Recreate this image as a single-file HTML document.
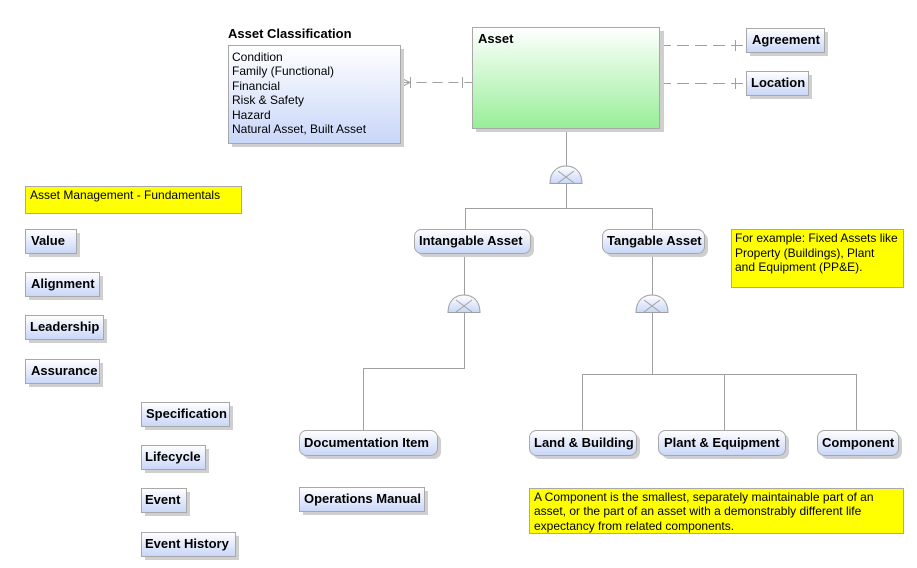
<!DOCTYPE html>
<html><head><meta charset="utf-8"><style>
body{margin:0;background:#fff;}
svg{display:block;font-family:"Liberation Sans",Arial,sans-serif;}
.b{font-weight:bold;font-size:13px;fill:#000;}
.t{font-size:12px;fill:#000;}
</style></head><body>
<svg width="917" height="568" viewBox="0 0 917 568" xmlns="http://www.w3.org/2000/svg" xml:space="preserve">
<defs>
<linearGradient id="bl" x1="0" y1="0" x2="0" y2="1"><stop offset="0" stop-color="#ffffff"/><stop offset="1" stop-color="#c8d6f8"/></linearGradient>
<linearGradient id="gr" x1="0" y1="0" x2="0" y2="1"><stop offset="0" stop-color="#ffffff"/><stop offset="1" stop-color="#98ee98"/></linearGradient>
</defs>
<g stroke="#a0a0a0" fill="none" stroke-width="1">
<path d="M400.5 82.5H472" stroke-dasharray="10,6"/>
<path d="M401 78L410 82.5L401 87M410.5 77V88M462.5 77V88"/>
<path d="M659 45.5H746" stroke-dasharray="12,6"/>
<path d="M735.5 40V51"/>
<path d="M659 83.5H746" stroke-dasharray="12,6"/>
<path d="M735.5 78V89"/>
<path d="M566.5 128V166M566.5 183V208.5M465.5 229V208.5H652.5V229"/>
<path d="M464.5 253V295M464.5 312V368.5H363.5V430"/>
<path d="M652.5 253V295M652.5 312V374.5M582.5 430V374.5H856.5V430M724.5 374.5V430"/>
</g>
<g stroke="#a0a0a0" fill="url(#bl)">
<path d="M550 183.5C550 172 557 166 566 166C575 166 582 172 582 183.5Z"/>
<path d="M448 312.5C448 301 455 295 464 295C473 295 480 301 480 312.5Z"/>
<path d="M636 312.5C636 301 643 295 652 295C661 295 668 301 668 312.5Z"/>
</g>
<g stroke="#a0a0a0" fill="none">
<path d="M558 171L574 183M574 171L558 183"/>
<path d="M456 300L472 312M472 300L456 312"/>
<path d="M644 300L660 312M660 300L644 312"/>
</g>
<g fill="#cfcfcf">
<rect x="232" y="49" width="172" height="98"/>
<rect x="476" y="31" width="188" height="101"/>
<rect x="750" y="32" width="78" height="24"/>
<rect x="750" y="75" width="62" height="24"/>
<rect x="29" y="233" width="51" height="24"/>
<rect x="29" y="276" width="74" height="24"/>
<rect x="29" y="319" width="78" height="24"/>
<rect x="29" y="363" width="74" height="24"/>
<rect x="145" y="406" width="88" height="24"/>
<rect x="145" y="449" width="64" height="24"/>
<rect x="145" y="492" width="45" height="24"/>
<rect x="145" y="536" width="94" height="24"/>
<rect x="303" y="491" width="125" height="24"/>
<rect x="418" y="233" width="116" height="24" rx="7"/>
<rect x="606" y="233" width="102" height="24" rx="7"/>
<rect x="303" y="434" width="138" height="25" rx="7"/>
<rect x="533" y="434" width="107" height="25" rx="7"/>
<rect x="662" y="434" width="127" height="25" rx="7"/>
<rect x="821" y="434" width="81" height="25" rx="7"/>
</g>
<g stroke="#a8a8a8">
<rect x="228.5" y="45.5" width="172" height="98" fill="url(#bl)"/>
<rect x="472.5" y="27.5" width="187" height="101" fill="url(#gr)"/>
<rect x="746.5" y="28.5" width="78" height="24" fill="url(#bl)"/>
<rect x="746.5" y="71.5" width="62" height="24" fill="url(#bl)"/>
<rect x="25.5" y="229.5" width="51" height="24" fill="url(#bl)"/>
<rect x="25.5" y="272.5" width="74" height="24" fill="url(#bl)"/>
<rect x="25.5" y="315.5" width="78" height="24" fill="url(#bl)"/>
<rect x="25.5" y="359.5" width="74" height="24" fill="url(#bl)"/>
<rect x="141.5" y="402.5" width="88" height="24" fill="url(#bl)"/>
<rect x="141.5" y="445.5" width="64" height="24" fill="url(#bl)"/>
<rect x="141.5" y="488.5" width="45" height="24" fill="url(#bl)"/>
<rect x="141.5" y="532.5" width="94" height="24" fill="url(#bl)"/>
<rect x="299.5" y="487.5" width="125" height="24" fill="url(#bl)"/>
<rect x="414.5" y="229.5" width="116" height="24" rx="7" fill="url(#bl)"/>
<rect x="602.5" y="229.5" width="102" height="24" rx="7" fill="url(#bl)"/>
<rect x="299.5" y="430.5" width="138" height="25" rx="7" fill="url(#bl)"/>
<rect x="529.5" y="430.5" width="107" height="25" rx="7" fill="url(#bl)"/>
<rect x="658.5" y="430.5" width="127" height="25" rx="7" fill="url(#bl)"/>
<rect x="817.5" y="430.5" width="81" height="25" rx="7" fill="url(#bl)"/>
<rect x="25.5" y="186.5" width="216" height="27" fill="#ffff00"/>
<rect x="731.5" y="229.5" width="172" height="58" fill="#ffff00"/>
<rect x="529.5" y="488.5" width="374" height="45" fill="#ffff00"/>
</g>
<text class="b" x="228" y="38">Asset Classification</text>
<text class="t" x="232" y="61">Condition</text>
<text class="t" x="232" y="75">Family (Functional)</text>
<text class="t" x="232" y="90">Financial</text>
<text class="t" x="232" y="104">Risk &amp; Safety</text>
<text class="t" x="232" y="119">Hazard</text>
<text class="t" x="232" y="133">Natural Asset, Built Asset</text>
<text class="b" x="478" y="43">Asset</text>
<text class="b" x="752" y="44">Agreement</text>
<text class="b" x="751" y="87">Location</text>
<text class="t" x="30" y="199">Asset Management -  Fundamentals</text>
<text class="b" x="31" y="245">Value</text>
<text class="b" x="31" y="288">Alignment</text>
<text class="b" x="30" y="331">Leadership</text>
<text class="b" x="31" y="375">Assurance</text>
<text class="b" x="146" y="418">Specification</text>
<text class="b" x="145" y="461">Lifecycle</text>
<text class="b" x="145" y="504">Event</text>
<text class="b" x="145" y="548">Event History</text>
<text class="b" x="304" y="503">Operations Manual</text>
<text class="b" x="419" y="245">Intangable Asset</text>
<text class="b" x="607" y="245">Tangable Asset</text>
<text class="b" x="304" y="447">Documentation Item</text>
<text class="b" x="534" y="447">Land &amp; Building</text>
<text class="b" x="664" y="447">Plant &amp; Equipment</text>
<text class="b" x="822" y="447">Component</text>
<text class="t" x="735" y="242">For example: Fixed Assets like</text>
<text class="t" x="735" y="257">Property (Buildings), Plant</text>
<text class="t" x="735" y="271">and Equipment (PP&amp;E).</text>
<text class="t" x="534" y="501">A Component is the smallest, separately maintainable part of an</text>
<text class="t" x="534" y="515">asset, or the part of an asset with a demonstrably different life</text>
<text class="t" x="534" y="530">expectancy from related components.</text>
</svg>
</body></html>
